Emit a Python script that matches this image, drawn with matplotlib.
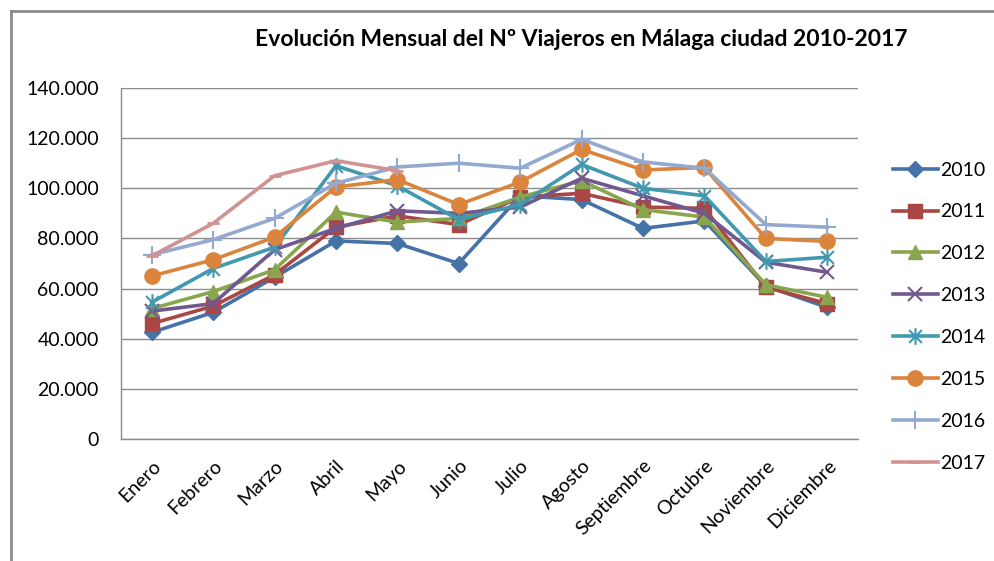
import matplotlib
matplotlib.use("Agg")
import matplotlib.pyplot as plt
from matplotlib.path import Path
from matplotlib.lines import Line2D

months = ["Enero", "Febrero", "Marzo", "Abril", "Mayo", "Junio", "Julio",
          "Agosto", "Septiembre", "Octubre", "Noviembre", "Diciembre"]
y2010 = [42500, 50500, 64500, 79000, 78000, 70000, 97000, 95500, 84000, 87000, 61000, 52500]
y2011 = [46000, 53000, 65500, 84500, 89000, 85500, 96500, 98000, 92500, 92000, 60500, 54000]
y2012 = [52000, 58800, 67500, 90500, 86500, 88000, 96500, 103000, 91500, 88500, 61500, 56500]
y2013 = [51000, 54000, 75500, 84000, 91000, 90000, 92500, 104000, 97000, 90000, 70500, 66500]
y2014 = [54500, 68000, 76500, 109000, 101000, 87500, 93500, 109500, 100000, 97000, 70800, 72500]
y2015 = [65000, 71500, 80500, 100500, 103500, 93500, 102500, 115500, 107300, 108300, 80000, 78800]
y2016 = [73500, 79500, 88000, 102000, 108500, 110000, 108000, 119500, 110500, 108000, 85500, 84500]
y2017 = [73000, 86000, 105000, 111000, 107000]
years = ["2010", "2011", "2012", "2013", "2014", "2015", "2016", "2017"]
yticks = [0, 20000, 40000, 60000, 80000, 100000, 120000, 140000]
ytick_labels = ["0", "20.000", "40.000", "60.000", "80.000", "100.000", "120.000", "140.000"]

plt.rcParams['font.family'] = ['Lato', 'DejaVu Sans']

# asterisk marker: X plus vertical line
ast = Path([(-1, -1), (1, 1), (-1, 1), (1, -1), (0, -1.3), (0, 1.3)],
           [Path.MOVETO, Path.LINETO, Path.MOVETO, Path.LINETO, Path.MOVETO, Path.LINETO])

styles = [
    dict(color="#4572A7", marker="D", ms=8),
    dict(color="#AA4643", marker="s", ms=10),
    dict(color="#89A54E", marker="^", ms=10),
    dict(color="#71588F", marker="x", ms=10, mew=1.5),
    dict(color="#4198AF", marker=ast, ms=12, mew=1.5),
    dict(color="#DB843D", marker="o", ms=11),
    dict(color="#93A9CF", marker="+", ms=13, mew=1.5),
    dict(color="#D19392", marker="_", ms=8, mew=2),
]
series = [y2010, y2011, y2012, y2013, y2014, y2015, y2016, y2017]

fig = plt.figure(figsize=(9.94, 5.61), dpi=100)
ax = fig.add_axes([121/994, 1-439/561, (858-121)/994, (439-88)/561])

x = list(range(len(months)))
handles = []
for name, vals, st in zip(years, series, styles):
    h, = ax.plot(x[:len(vals)], vals, lw=2.6, label=name, solid_joinstyle='round', **st)
    handles.append(h)

ax.set_xlim(-0.5, 11.5)
ax.set_ylim(0, 140000)
ax.set_yticks(yticks)
ax.set_yticklabels(ytick_labels, fontsize=14)
ax.set_xticks(x)
ax.set_xticklabels(months, fontsize=14, rotation=45, ha='right', rotation_mode='anchor')
ax.tick_params(axis='both', length=0)
ax.tick_params(axis='y', pad=16)
ax.tick_params(axis='x', pad=13)
ax.grid(axis='y', color='#8c8c8c', lw=1)
ax.set_axisbelow(True)
for s in ['top', 'right']:
    ax.spines[s].set_visible(False)
for s in ['left', 'bottom']:
    ax.spines[s].set_color('#8c8c8c')
    ax.spines[s].set_linewidth(1)

fig.text(581/994, 1-40/561, "Evolución Mensual del Nº Viajeros en Málaga ciudad 2010-2017",
         ha='center', va='center', fontsize=16.5, fontweight='bold')

leg = fig.legend(handles=handles, loc='upper left', bbox_to_anchor=(893/994, 1-161.5/561),
                 frameon=False, fontsize=14, handlelength=2.3, handletextpad=0.12,
                 labelspacing=1.28, borderaxespad=0, borderpad=0)

# outer chart border
fig.add_artist(Line2D([11/994, 11/994], [0, 1-11/561], color='#8c8c8c', lw=2))
fig.add_artist(Line2D([11/994, 1], [1-11/561, 1-11/561], color='#8c8c8c', lw=2))

fig.savefig("out.png", dpi=100)
